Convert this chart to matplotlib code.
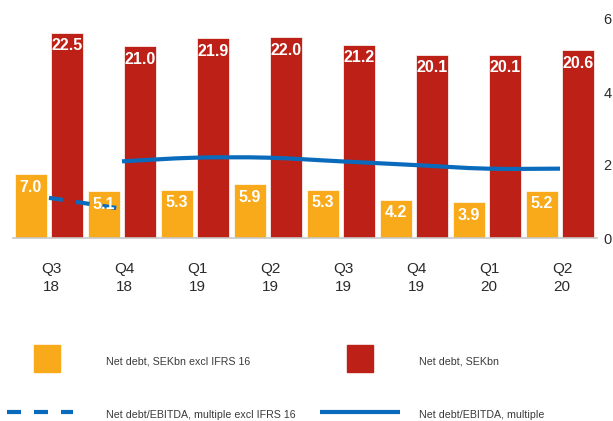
import matplotlib
matplotlib.use("Agg")
import matplotlib.pyplot as plt
import numpy as np
from matplotlib.path import Path
from matplotlib.patches import PathPatch, Rectangle

plt.rcParams['font.family'] = ['Liberation Sans', 'DejaVu Sans']

quarters = ['Q3\n18', 'Q4\n18', 'Q1\n19', 'Q2\n19', 'Q3\n19', 'Q4\n19', 'Q1\n20', 'Q2\n20']
net_debt_excl = [7.0, 5.1, 5.3, 5.9, 5.3, 4.2, 3.9, 5.2]
net_debt = [22.5, 21.0, 21.9, 22.0, 21.2, 20.1, 20.1, 20.6]
multiple_excl = [1.1, 0.8]             # Q3 18, Q4 18
multiple = [2.1, 2.2, 2.2, 2.1, 2.0, 1.9, 1.9]  # Q4 18 .. Q2 20

YELLOW = '#F8AA1A'
RED = '#BC2016'
BLUE = '#0A6BBD'
TXT = '#2b2b2b'
DASH = (3.36, 3.12)

fig = plt.figure(figsize=(6.13, 4.21), dpi=100)
ax = fig.add_axes([12.5 / 613, 183 / 421, 584 / 613, 219 / 421])

x = np.arange(len(quarters))
w = 0.44
off = 0.247
yb = ax.bar(x - off, net_debt_excl, w, color=YELLOW, edgecolor='white', linewidth=0.5, zorder=2)
rb = ax.bar(x + off, net_debt, w, color=RED, edgecolor='white', linewidth=0.5, zorder=2)
ax.set_xlim(-0.5, len(quarters) - 0.5)
ax.set_ylim(0, 24)

ax.set_yticks([])
ax.set_xticks(x + 0.03)
ax.set_xticklabels(quarters, fontsize=11, color=TXT, linespacing=1.4)
ax.tick_params(axis='x', length=0, pad=17)
for s in ['top', 'right', 'left']:
    ax.spines[s].set_visible(False)
ax.spines['bottom'].set_color('#C8C8C8')
ax.spines['bottom'].set_linewidth(1.2)

# right axis for the EBITDA multiples
ax2 = ax.twinx()
ax2.set_ylim(0, 6)
ax2.set_yticks([0, 2, 4, 6])
ax2.tick_params(axis='y', length=0, pad=5, labelsize=10.5, labelcolor=TXT)
for s in ax2.spines.values():
    s.set_visible(False)

ax2.plot(x[:2], multiple_excl, color=BLUE, lw=3, dashes=DASH,
         solid_capstyle='butt', dash_capstyle='butt', zorder=4)


# smoothed line through the points (Catmull-Rom -> cubic Bezier)
def smooth_path(xs, ys):
    pts = np.column_stack([xs, ys]).astype(float)
    verts = [pts[0]]
    codes = [Path.MOVETO]
    n = len(pts)
    for i in range(n - 1):
        p0 = pts[i - 1] if i > 0 else pts[i]
        p1 = pts[i]
        p2 = pts[i + 1]
        p3 = pts[i + 2] if i + 2 < n else pts[i + 1]
        c1 = p1 + (p2 - p0) / 6
        c2 = p2 - (p3 - p1) / 6
        verts += [c1, c2, p2]
        codes += [Path.CURVE4] * 3
    return Path(verts, codes)


ax2.add_patch(PathPatch(smooth_path(x[1:], multiple), fill=False,
                        edgecolor=BLUE, lw=3, capstyle='butt', zorder=4))

# value labels go on the top axes so they sit above the lines
for bars, vals in ((yb, net_debt_excl), (rb, net_debt)):
    for b, v in zip(bars, vals):
        ax2.annotate(f'{v:.1f}', (b.get_x() + b.get_width() / 2, v),
                     xycoords=ax.transData,
                     xytext=(0, -9.5), textcoords='offset points',
                     ha='center', va='center', color='white',
                     fontsize=11.5, fontweight='bold', zorder=5)

# legend drawn in figure pixel space
lg = fig.add_axes([0, 0, 1, 1])
lg.set_xlim(0, 613)
lg.set_ylim(421, 0)
lg.axis('off')
lg.patch.set_alpha(0)
lg.add_patch(Rectangle((34, 345), 26, 27, color=YELLOW))
lg.add_patch(Rectangle((347, 345), 26, 27, color=RED))
lg.plot([7, 73], [412, 412], color=BLUE, lw=3, dashes=DASH, dash_capstyle='butt')
lg.plot([320, 400], [412, 412], color=BLUE, lw=3, solid_capstyle='butt')
for tx, ty, label in [(106, 361, 'Net debt, SEKbn excl IFRS 16'),
                      (419, 361, 'Net debt, SEKbn'),
                      (106, 415, 'Net debt/EBITDA, multiple excl IFRS 16'),
                      (419, 415, 'Net debt/EBITDA, multiple')]:
    lg.text(tx, ty, label, fontsize=7.7, color='#3a3a3a', ha='left', va='center')

fig.savefig('out.png', dpi=100)
